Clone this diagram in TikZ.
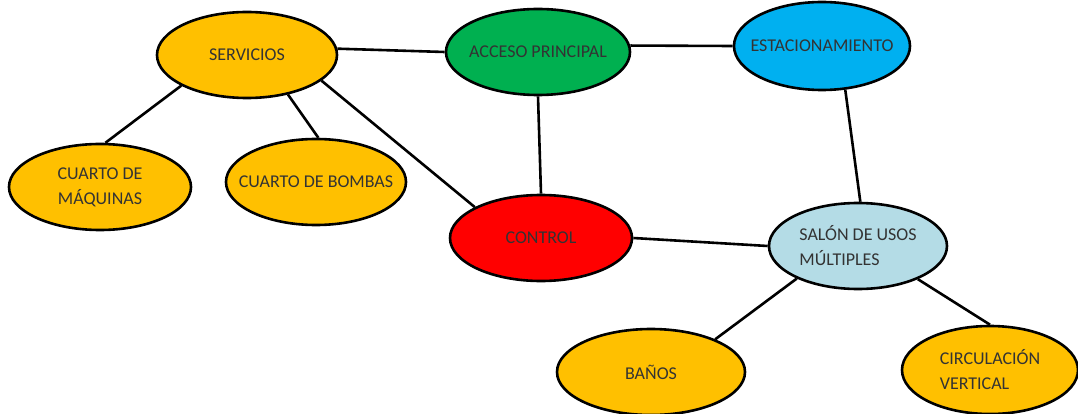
\documentclass[tikz,border=0pt]{standalone}
\usepackage{fontspec}
\setmainfont{Carlito}
\usetikzlibrary{shapes.geometric}
\definecolor{gold}{HTML}{FFC000}
\definecolor{grn}{HTML}{00B050}
\definecolor{sky}{HTML}{00B0F0}
\definecolor{rd}{HTML}{FF0000}
\definecolor{lblue}{HTML}{B4DCE6}
\definecolor{txt}{HTML}{333333}
\begin{document}
\begin{tikzpicture}[x=1pt,y=-1pt,
  bub/.style={ellipse,draw=black,line width=2.6pt,inner sep=0pt,
    minimum width=180pt,minimum height=86pt},
  tx/.style={text=txt,font=\fontsize{18}{25}\selectfont,align=center,inner sep=0pt},
  link/.style={line width=2.6pt,draw=black}]
\useasboundingbox (0,0) rectangle (1078,414);
\node[bub,fill=gold] (serv) at (247,55) {};
\node[bub,fill=grn,minimum width=184pt] (acc) at (538,52) {};
\node[bub,fill=sky,minimum width=176pt,minimum height=88pt] (est) at (822,46) {};
\node[bub,fill=gold,minimum width=182pt] (maq) at (100,187) {};
\node[bub,fill=gold] (bomb) at (316,182) {};
\node[bub,fill=rd,minimum width=182pt] (ctrl) at (541,238) {};
\node[bub,fill=lblue,minimum width=178pt] (sal) at (858,246) {};
\node[bub,fill=gold,minimum width=188pt] (ban) at (651,372) {};
\node[bub,fill=gold,minimum width=176pt,minimum height=88pt] (circ) at (990,370) {};
\node[tx] (tserv) at (serv) {SERVICIOS};
\node[tx] (tacc) at (acc) {ACCESO PRINCIPAL};
\node[tx] (test) at (est) {ESTACIONAMIENTO};
\node[tx] (tmaq) at (maq) {CUARTO DE\\MÁQUINAS};
\node[tx] (tbomb) at (bomb) {CUARTO DE BOMBAS};
\node[tx] (tctrl) at (ctrl) {CONTROL};
\node[tx,align=left] (tsal) at (sal) {SALÓN DE USOS\\MÚLTIPLES};
\node[tx] (tban) at (ban) {BAÑOS};
\node[tx,align=left] (tcirc) at (circ) {CIRCULACIÓN\\VERTICAL};
\draw[link] (serv.4) -- (acc.west);
\draw[link] (acc.4) -- (est.west);
\draw[link] (serv.205) -- (maq.83);
\draw[link] (serv.-44) -- (bomb.87);
\draw[link] (serv.-19) -- (ctrl.155);
\draw[link] (acc.south) -- (ctrl.north);
\draw[link] (est.-62) -- (sal.87);
\draw[link] (ctrl.east) -- (sal.west);
\draw[link] (sal.208) -- (ban.27);
\draw[link] (sal.-29) -- (circ.90);
\end{tikzpicture}
\end{document}
